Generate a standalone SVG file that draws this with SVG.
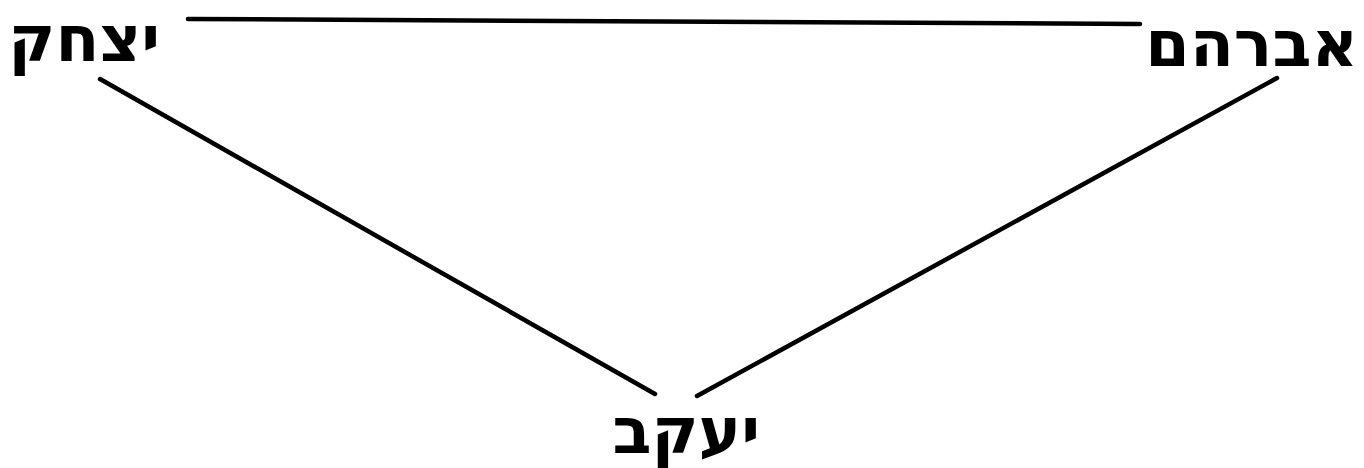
<svg xmlns="http://www.w3.org/2000/svg" width="1364" height="468" viewBox="0 0 1364 468">
<style>
.lbl{font-family:"DejaVu Sans","Liberation Sans",sans-serif;font-size:64px;font-weight:bold;fill:#000;text-anchor:end}
.ln{stroke:#000;stroke-width:4.5;fill:none;stroke-linecap:round}
</style>
<rect width="1364" height="468" fill="#fff"/>
<g id="connectors">
<line class="ln" x1="188" y1="19" x2="1140" y2="24" stroke-width="3"/>
<line class="ln" x1="100" y1="79" x2="655" y2="394"/>
<line class="ln" x1="1277" y1="78" x2="697" y2="396"/>
</g>
<g id="isaac"><text class="lbl" x="160" y="61">יצחק</text></g>
<g id="abraham"><text class="lbl" x="1358" y="66">אברהם</text></g>
<g id="jacob"><text class="lbl" x="760" y="453">יעקב</text></g>
</svg>
